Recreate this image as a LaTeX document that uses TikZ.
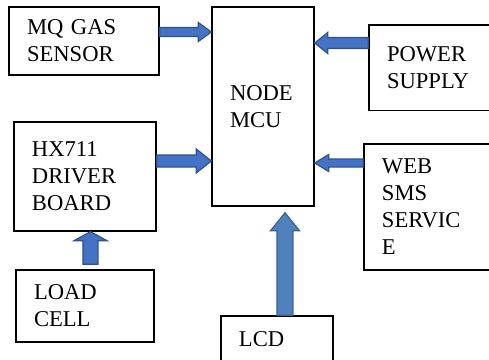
\documentclass[tikz,border=0pt]{standalone}
\usepackage{fontspec}
\setmainfont{Liberation Serif}
\usetikzlibrary{positioning,calc}
\definecolor{flowblue}{RGB}{68,114,196}
\definecolor{flowedge}{RGB}{47,82,143}
\definecolor{lcdblue}{RGB}{79,129,189}
\definecolor{lcdedge}{RGB}{60,98,145}

% block arrow: [style] start, tip, half shaft, half head, head length
\newcommand{\flowarrow}[6][flow]{%
  \coordinate (fa-base) at ($(#3)!#6!(#2)$);
  \draw[#1] ($(#2)!#4!90:(#3)$) -- ($(fa-base)!#4!90:(#3)$) -- ($(fa-base)!#5!90:(#3)$) -- (#3)
    -- ($(fa-base)!#5!-90:(#3)$) -- ($(fa-base)!#4!-90:(#3)$) -- ($(#2)!#4!-90:(#3)$) -- cycle;}

\begin{document}
\begin{tikzpicture}[x=0.5pt, y=-0.5pt,
    box/.style={draw, line width=0.7pt, align=left, inner xsep=9pt, inner ysep=0pt, font=\fontsize{11.3}{13.5}\selectfont},
    flow/.style={draw=flowedge, fill=flowblue, line width=0.6pt},
    lcdflow/.style={draw=lcdedge, fill=lcdblue, line width=0.6pt}
]
\useasboundingbox (0,0) rectangle (489,360);
\clip (0,0) rectangle (489,360);

% Blocks
\node[box, text width=57pt, minimum height=34pt] (mq) at (84,41) {MQ GAS\\SENSOR};
\node[box, text width=33pt, minimum height=99.5pt] (mcu) at (263,106.5) {NODE\\MCU};
\node[box, text width=47.5pt, minimum height=42.75pt] (power) at (434.5,67.75) {POWER\\SUPPLY};
\node[box, text width=53pt, minimum height=54.5pt] (hx) at (85,176.5) {HX711\\DRIVER\\BOARD};
\node[box, text width=51pt, minimum height=36pt] (load) at (85,306) {LOAD\\CELL};
\node[box, text width=50pt, minimum height=63pt] (web) at (432,207) {WEB\\SMS\\SERVIC\\E};
\node[box, text width=38pt, minimum height=23pt] (lcd) at (277,339) {LCD};

% Arrow ends
\coordinate (mq-out) at (mq.east |- 0,32);
\coordinate (power-out) at (power.west |- 0,43);
\coordinate (hx-out) at (hx.east |- 0,161);
\coordinate (web-out) at (web.west |- 0,163);
\coordinate (load-out) at ($(load.north -| 90.5,0)+(0,-5)$);
\coordinate (lcd-out) at (lcd.north -| 285,0);
\coordinate (lcd-in) at ($(mcu.south -| lcd-out)+(0,6)$);

% Arrows
\flowarrow{mq-out}{mcu.west |- mq-out}{2.25pt}{4.75pt}{6.5pt}
\flowarrow{power-out}{mcu.east |- power-out}{2.75pt}{5.25pt}{6.5pt}
\flowarrow{hx-out}{mcu.west |- hx-out}{3pt}{6pt}{7.5pt}
\flowarrow{web-out}{mcu.east |- web-out}{2pt}{4.25pt}{7pt}
\flowarrow{load-out}{hx.south -| load-out}{3.75pt}{8.25pt}{4.5pt}
\flowarrow[lcdflow]{lcd-out}{lcd-in}{4pt}{7.25pt}{9pt}

\end{tikzpicture}
\end{document}
